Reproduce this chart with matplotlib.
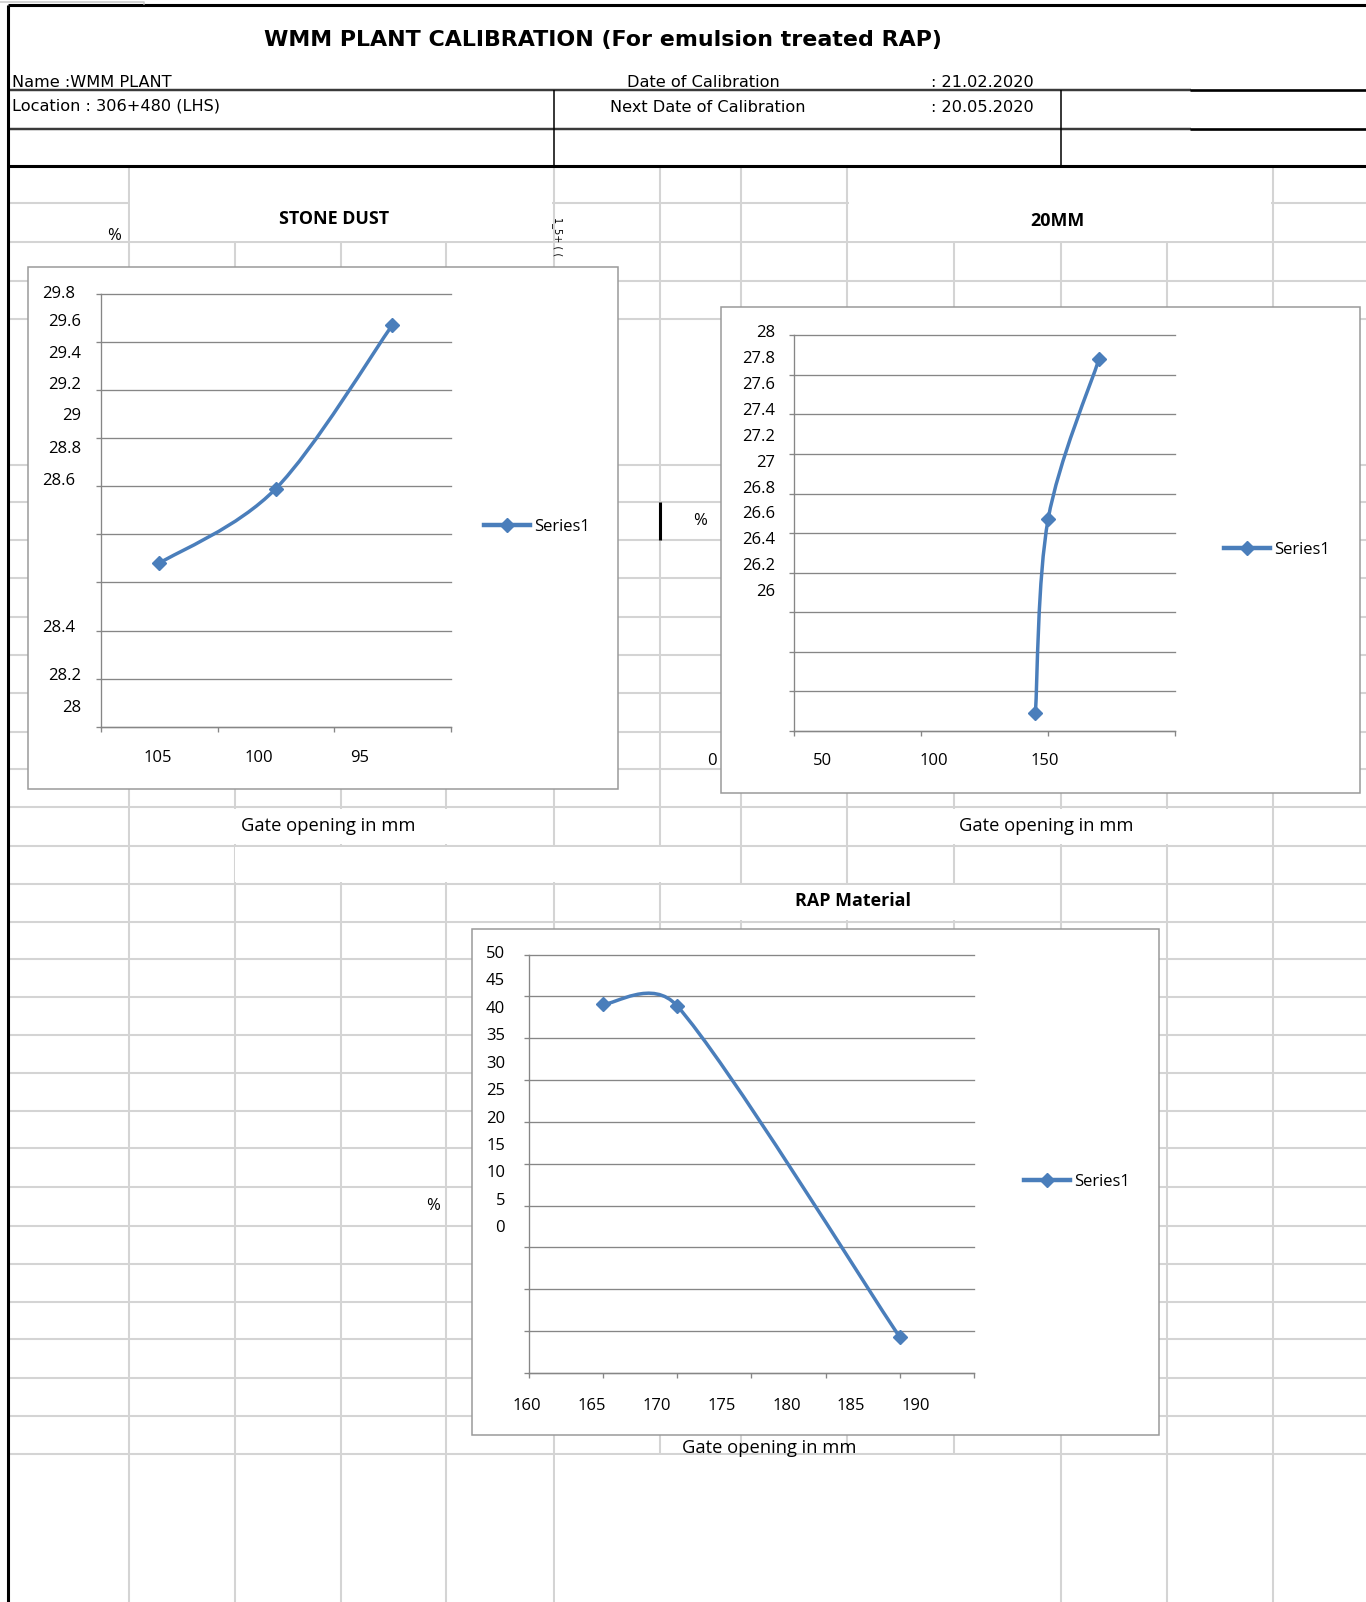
import numpy as np
import matplotlib
matplotlib.use('Agg')
import matplotlib.pyplot as plt
from matplotlib.path import Path
from matplotlib.patches import PathPatch, Rectangle
from matplotlib.lines import Line2D

# ---- values ----
stone_gate = ['105', '100', '95']
stone_pct = [28.68, 28.99, 29.67]
stone_ylabels = ['29.8', '29.6', '29.4', '29.2', '29', '28.8', '28.6', '28.4', '28.2', '28']

mm20_gate = [95, 100, 120]
mm20_pct = [26.09, 27.07, 27.88]
mm20_ylabels = ['28', '27.8', '27.6', '27.4', '27.2', '27', '26.8', '26.6', '26.4', '26.2', '26']
mm20_xlabels = ['0', '50', '100', '150']

rap_gate = [165, 170, 185]
rap_pct = [44.05, 43.87, 4.26]
rap_ylabels = ['50', '45', '40', '35', '30', '25', '20', '15', '10', '5', '0']
rap_xlabels = ['160', '165', '170', '175', '180', '185', '190']

# ---- sheet layout (reference pixel units) ----
W, H = 1337, 1568
PT = 0.7356          # one reference pixel in points
BLUE = '#4A7EBB'
AXC = '#868686'
GRID = '#d4d4d4'
FONT = 'Open Sans'

sheet_rows = [199, 237, 275, 312, 455, 491, 529, 566, 604, 641, 678, 716, 753, 790,
              828, 865, 902, 939, 976, 1013, 1050, 1087, 1124, 1162, 1200, 1237, 1274,
              1311, 1349, 1386, 1423]
sheet_cols = [126, 230, 334, 437, 542, 646, 725, 829, 934, 1038, 1142, 1246]
merged = [(126, 162, 542, 237), (829, 162, 1246, 237), (126, 790, 542, 828),
          (229, 828, 725, 865), (829, 790, 1246, 828), (646, 865, 1038, 902),
          (542, 1423, 1038, H + 5)]

fig = plt.figure(figsize=(13.66, 16.02), dpi=100)
bg = fig.add_axes([0, 0, 1, 1])
bg.set_xlim(0, W)
bg.set_ylim(H, 0)
bg.axis('off')

# spreadsheet grid
bg.hlines(sheet_rows, 8, W, color=GRID, lw=2 * PT, zorder=1)
bg.vlines(sheet_cols, 162, H, color=GRID, lw=2 * PT, zorder=1)
for x0, y0, x1, y1 in merged:
    bg.add_patch(Rectangle((x0 + 1.5, y0 + 1.5), x1 - x0 - 3, y1 - y0 - 3,
                           fc='white', ec='none', zorder=2))

# header borders
bg.hlines([5, 162], 8, W, color='black', lw=3 * PT, zorder=4)
for yy in [88, 126]:
    bg.plot([8, 1166], [yy, yy], color='#3a3a3a', lw=2.4 * PT, zorder=4,
            solid_capstyle='butt')
    bg.plot([1165, W], [yy, yy], color='black', lw=2.6 * PT, zorder=4,
            solid_capstyle='butt')
bg.vlines([542, 1038], 88, 162, color='black', lw=1.5 * PT, zorder=4)
bg.vlines(8, 5, H, color='black', lw=3 * PT, zorder=4)
bg.vlines(646, 491, 529, color='black', lw=3 * PT, zorder=4)
bg.plot([0, 141, 141], [1.5, 1.5, 4], color='#c8c8c8', lw=1.5 * PT, zorder=4)

# header texts
hdr = dict(family='DejaVu Sans', fontsize=11.6, va='center', zorder=5)
bg.text(590, 39.5, 'WMM PLANT CALIBRATION (For emulsion treated RAP)', ha='center',
        va='center', family='DejaVu Sans', fontsize=15.9, fontweight='bold', zorder=5)
bg.text(12, 80.5, 'Name :WMM PLANT', **hdr)
bg.text(614, 80.5, 'Date of Calibration', **hdr)
bg.text(911, 80.5, ': 21.02.2020', **hdr)
bg.text(12, 104, 'Location : 306+480 (LHS)', **hdr)
bg.text(597, 105, 'Next Date of Calibration', **hdr)
bg.text(911, 105, ': 20.05.2020', **hdr)

# cell texts around the charts
cell = dict(family=FONT, fontsize=12, ha='center', va='center', zorder=5)
bold = dict(family=FONT, fontsize=12.9, ha='center', va='center', zorder=5,
            fontweight='bold')
bg.text(327, 214, 'STONE DUST', **bold)
bg.text(1035, 216, '20MM', **bold)
bg.text(835, 882, 'RAP Material', **bold)
bg.text(112, 231, '%', **cell)
bg.text(685, 510, '%', **cell)
bg.text(424, 1180, '%', **cell)
gate = dict(cell, fontsize=13.2)
bg.text(321, 808, 'Gate opening in mm', **gate)
bg.text(1024, 808, 'Gate opening in mm', **gate)
bg.text(753, 1417, 'Gate opening in mm', **gate)
bg.text(546, 232, '1_5+ ( (', rotation=-90, fontsize=7, ha='center', va='center',
        family='DejaVu Sans', zorder=5)


def chart(box, plot, xlim, xt, ylim, yt):
    bx0, by0, bx1, by1 = box
    bg.add_patch(Rectangle((bx0, by0), bx1 - bx0, by1 - by0, fc='white',
                           ec='#9a9a9a', lw=1.5 * PT, zorder=3))
    x0, y0, x1, y1 = plot
    ax = fig.add_axes([x0 / W, 1 - y1 / H, (x1 - x0) / W, (y1 - y0) / H])
    ax.patch.set_visible(False)
    ax.set_xlim(xlim)
    ax.set_ylim(ylim)
    ax.set_xticks(xt)
    ax.set_yticks(yt)
    ax.tick_params(direction='out', length=5 * PT, width=1.3 * PT, color=AXC,
                   labelleft=False, labelbottom=False)
    ax.grid(axis='y', color=AXC, lw=1.3 * PT)
    for g in ax.yaxis.get_gridlines():
        g.set_clip_on(False)
    ax.set_axisbelow(True)
    for s in ['top', 'right']:
        ax.spines[s].set_visible(False)
    for s in ['left', 'bottom']:
        ax.spines[s].set_color(AXC)
        ax.spines[s].set_linewidth(1.3 * PT)
    return ax


def excel_curve(ax, xs, ys):
    # Excel style smoothed line: bezier arms of 1/6, capped at half the segment
    pts = ax.transData.transform(np.column_stack([xs, ys]))
    n = len(pts)
    verts = [pts[0]]
    codes = [Path.MOVETO]
    for i in range(n - 1):
        p0, p1 = pts[max(i - 1, 0)], pts[i]
        p2, p3 = pts[i + 1], pts[min(i + 2, n - 1)]
        half = np.hypot(*(p2 - p1)) / 2
        a1 = (p2 - p0) / 6
        a2 = (p3 - p1) / 6
        if np.hypot(*a1) > half:
            a1 = a1 * half / np.hypot(*a1)
        if np.hypot(*a2) > half:
            a2 = a2 * half / np.hypot(*a2)
        verts += [p1 + a1, p2 - a2, p2]
        codes += [Path.CURVE4] * 3
    verts = ax.transData.inverted().transform(np.array(verts))
    ax.add_patch(PathPatch(Path(verts, codes), fill=False, ec=BLUE, lw=2.5,
                           capstyle='round', joinstyle='round', zorder=3))
    ax.plot(xs, ys, ls='none', marker='D', ms=7.4, color=BLUE, zorder=4, clip_on=False)


def series_legend(ax, x, y):
    h = Line2D([], [], color=BLUE, lw=3.2, marker='D', ms=7.4)
    ax.legend([h], ['Series1'], loc='center left', bbox_to_anchor=(x / W, 1 - y / H),
              bbox_transform=fig.transFigure, frameon=False, borderpad=0,
              borderaxespad=0, handlelength=2.75, handletextpad=0.25, numpoints=1,
              prop=dict(family=FONT, size=12))


def ylabels(ax, labels, pos, gaps):
    for lab, p, g in zip(labels, pos, gaps):
        ax.annotate(lab, xy=(0, p), xycoords=('axes fraction', 'data'),
                    xytext=(-g * PT, 0), textcoords='offset points', ha='right',
                    va='center', family=FONT, fontsize=12, annotation_clip=False)


def xlabels(ax, labels, pos, drop):
    for lab, p in zip(labels, pos):
        ax.annotate(lab, xy=(p, 0), xycoords=('data', 'axes fraction'),
                    xytext=(0, -drop * PT), textcoords='offset points', ha='center',
                    va='center', family=FONT, fontsize=12, annotation_clip=False)


# ---- STONE DUST (category axis) ----
ax1 = chart((27.7, 261.3, 605.3, 772.2), (98.9, 287.3, 441.2, 711.5),
            (-0.5, 2.5), [-0.5, 0.5, 1.5, 2.5], (28, 29.8), np.linspace(28, 29.8, 10))
excel_curve(ax1, np.arange(len(stone_gate)), stone_pct)
ylabels(ax1, stone_ylabels,
        [29.80, 29.68, 29.55, 29.42, 29.29, 29.155, 29.02, 28.41, 28.21, 28.08],
        [25.6, 19.4, 19.4, 19.4, 19.4, 19.4, 25.6, 25.6, 19.4, 19.4])
xlabels(ax1, stone_gate, [-0.01, 0.855, 1.72], 30.5)
series_legend(ax1, 474, 516)

# ---- 20MM (xy scatter) ----
ax2 = chart((706, 300, 1331, 776), (777, 328.3, 1150.3, 715.3),
            (0, 150), [0, 50, 100, 150], (26, 28), np.linspace(26, 28, 11))
excel_curve(ax2, mm20_gate, mm20_pct)
ylabels(ax2, mm20_ylabels, 28.01 - 0.1308 * np.arange(len(mm20_ylabels)),
        [18] * len(mm20_ylabels))
xlabels(ax2, mm20_xlabels, -32.3 + 43.63 * np.arange(len(mm20_xlabels)), 29.5)
series_legend(ax2, 1198, 538)

# ---- RAP Material (xy scatter) ----
ax3 = chart((462, 909, 1134, 1404.7), (517.4, 934.3, 953.3, 1343.7),
            (160, 190), np.arange(160, 191, 5), (0, 50), np.arange(0, 51, 5))
excel_curve(ax3, rap_gate, rap_pct)
ylabels(ax3, rap_ylabels, 50.08 - 3.28 * np.arange(len(rap_ylabels)),
        [23] * len(rap_ylabels))
xlabels(ax3, rap_xlabels, 159.9 + 4.366 * np.arange(len(rap_xlabels)), 32.5)
series_legend(ax3, 1002, 1157)

fig.savefig('out.png', dpi=100, facecolor='white')
